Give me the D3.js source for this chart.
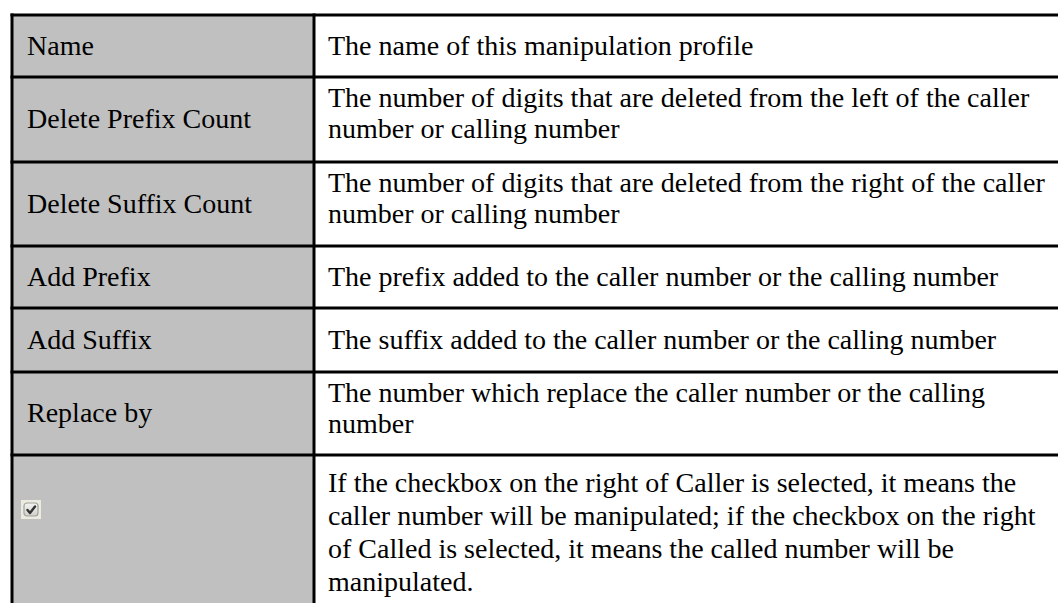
<!DOCTYPE html>
<html>
<head>
<meta charset="utf-8">
<script src="https://cdn.jsdelivr.net/npm/d3@7"></script>
<style>
  html, body { margin: 0; padding: 0; background: #ffffff; }
  svg { display: block; }
</style>
</head>
<body>
<svg id="chart" width="1058" height="603"></svg>
<script>
// ---- data ----
const labels = [
  "Name",
  "Delete Prefix Count",
  "Delete Suffix Count",
  "Add Prefix",
  "Add Suffix",
  "Replace by",
  "[checkbox]"
];
const descriptions = [
  ["The name of this manipulation profile"],
  ["The number of digits that are deleted from the left of the caller",
   "number or calling number"],
  ["The number of digits that are deleted from the right of the caller",
   "number or calling number"],
  ["The prefix added to the caller number or the calling number"],
  ["The suffix added to the caller number or the calling number"],
  ["The number which replace the caller number or the calling",
   "number"],
  ["If the checkbox on the right of Caller is selected, it means the",
   "caller number will be manipulated; if the checkbox on the right",
   "of Called is selected, it means the called number will be",
   "manipulated."]
];

// ---- layout ----
const rowHeights = [62, 85, 84, 62, 64, 83, 160];
const W = 1058, H = 603;
const tableLeft = 12, tableTop = 15, divider = 314, tableRight = 1070;
const fontSize = 28, lineGap = 31;

const svg = d3.select("#chart");
const tops = [0, ...d3.cumsum(rowHeights)].map(v => v + tableTop);
const y = d3.scaleOrdinal().domain(d3.range(labels.length)).range(tops);

const rows = labels.map((l, i) => ({
  i, label: l, desc: descriptions[i],
  top: y(i), h: rowHeights[i]
}));

// left column fill
svg.append("g").selectAll("rect").data(rows).join("rect")
  .attr("x", tableLeft).attr("y", d => d.top)
  .attr("width", divider - tableLeft).attr("height", d => d.h)
  .attr("fill", "#c0c0c0");

// grid lines
const g = svg.append("g").attr("stroke", "#000").attr("stroke-width", 3);
g.selectAll("line.h").data(tops).join("line").attr("class", "h")
  .attr("x1", tableLeft - 1.5).attr("x2", tableRight)
  .attr("y1", d => d).attr("y2", d => d);
g.append("line").attr("x1", tableLeft).attr("x2", tableLeft)
  .attr("y1", tableTop - 1.5).attr("y2", H + 20);
g.append("line").attr("x1", divider).attr("x2", divider)
  .attr("y1", tableTop - 1.5).attr("y2", H + 20);

const font = "'Liberation Serif', 'Times New Roman', serif";

// labels
svg.append("g").selectAll("text").data(rows.filter(d => d.label !== "[checkbox]")).join("text")
  .attr("x", 27)
  .attr("y", d => d.top + d.h / 2 + fontSize * 0.32)
  .attr("font-family", font).attr("font-size", fontSize).attr("fill", "#000")
  .text(d => d.label);

// checkbox
const cbRow = rows.find(d => d.label === "[checkbox]");
const cb = svg.append("g").attr("transform", `translate(21,${cbRow.top + 45})`);
const grad = svg.append("defs").append("linearGradient").attr("id", "cbg")
  .attr("x1", 0).attr("y1", 0).attr("x2", 0).attr("y2", 1);
grad.append("stop").attr("offset", 0).attr("stop-color", "#f4f4f2");
grad.append("stop").attr("offset", 1).attr("stop-color", "#d0d0cc");
cb.append("rect").attr("width", 20).attr("height", 19).attr("fill", "#ecebe0");
cb.append("rect").attr("x", 3).attr("y", 3).attr("width", 14).attr("height", 13)
  .attr("rx", 3).attr("fill", "url(#cbg)").attr("stroke", "#a0a09c").attr("stroke-width", 1.2);
cb.append("path").attr("d", "M6.5 10 L9 13 L14 6.5")
  .attr("fill", "none").attr("stroke", "#333").attr("stroke-width", 2.4)
  .attr("stroke-linecap", "round").attr("stroke-linejoin", "round");

// descriptions
const dg = svg.append("g").attr("font-family", font).attr("font-size", fontSize).attr("fill", "#000");
rows.forEach(r => {
  const n = r.desc.length;
  const gap = n > 2 ? 33 : lineGap;
  const first = n === 1 ? r.top + r.h / 2 + fontSize * 0.32 : r.top + (n > 2 ? 37 : 30);
  dg.append("g").selectAll("text").data(r.desc).join("text")
    .attr("x", 328)
    .attr("y", (d, j) => first + j * gap)
    .text(d => d);
});
</script>
</body>
</html>
